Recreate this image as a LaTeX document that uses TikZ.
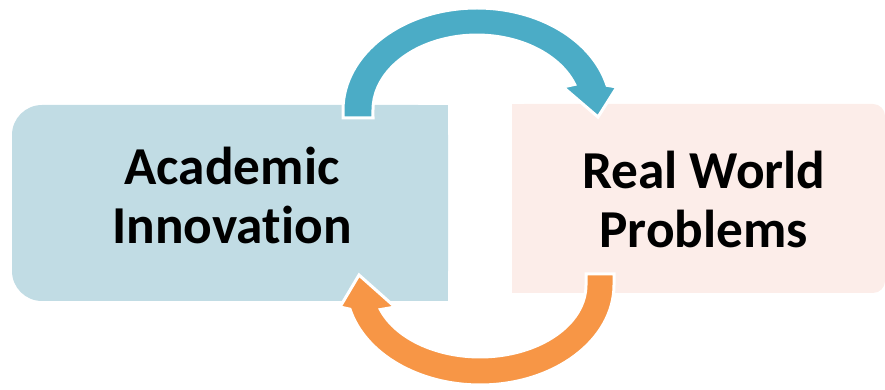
\documentclass[tikz,border=0pt]{standalone}
\usepackage{fontspec}
\setmainfont{Carlito}[Ligatures=NoCommon]
\usepackage{xcolor}
\usepackage{tikz}
\definecolor{acadblue}{RGB}{193,220,228}
\definecolor{realpeach}{RGB}{252,237,233}
\definecolor{loopblue}{RGB}{75,172,198}
\definecolor{looporange}{RGB}{247,150,70}
\usetikzlibrary{positioning,backgrounds}

\begin{document}
\begin{tikzpicture}[
    x=0.75pt, y=0.75pt,
    box/.style={rectangle, inner sep=0pt},
    boxtext/.style={font=\bfseries\fontsize{40}{44.25}\selectfont, align=center, text=black},
    cyclearrow/.style={draw=white, line width=2.25pt, line join=miter}
]
\useasboundingbox (0,0) rectangle (885,389);

\node[box, fill=acadblue, rounded corners=22.5pt, minimum width=327pt, minimum height=147pt] (acad) at (230,186) {};
\node[box, fill=realpeach, rounded corners=9pt, minimum width=279.75pt, minimum height=141.75pt] (real) at (698.5,190.5) {};

% square off the inner sides
\begin{scope}[on background layer]
\fill[acadblue] (acad.north) rectangle (acad.south east);
\fill[realpeach] (real.north west) rectangle (real.south);
\end{scope}

\node[boxtext] (acadtext) at ([xshift=1.5pt, yshift=6pt]acad.center) {Academic\\Innovation};
\node[boxtext] (realtext) at ([xshift=4pt, yshift=-0.75pt]real.center) {Real World\\Problems};

% upper arrow
\filldraw[cyclearrow, fill=loopblue] (343,271) -- (343,279)
    arc[start angle=180, end angle=14, x radius=134, y radius=102]
    -- (617,302) -- (598,272) -- (563,302) -- (574.7,304.6)
    arc[start angle=20, end angle=180, x radius=104, y radius=75]
    -- (373,271) -- cycle;

% lower arrow
\filldraw[cyclearrow, fill=looporange] (614,115) -- (614,104)
    arc[start angle=0, end angle=-166, x radius=134, y radius=100]
    -- (340,82) -- (359,114) -- (395,82) -- (380.4,79.4)
    arc[start angle=-160, end angle=0, x radius=106, y radius=72]
    -- (586,115) -- cycle;

\end{tikzpicture}
\end{document}
